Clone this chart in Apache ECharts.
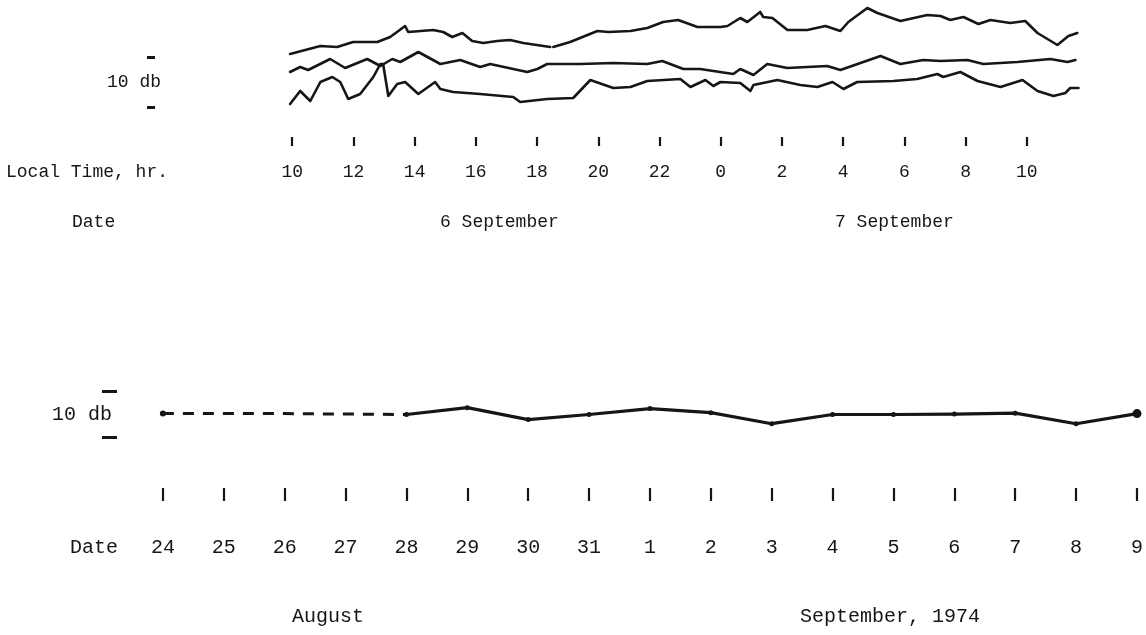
<!DOCTYPE html>
<html>
<head>
<meta charset="utf-8">
<script src="https://cdn.jsdelivr.net/npm/echarts@6/dist/echarts.min.js"></script>
<style>
  html, body { margin: 0; padding: 0; background: #fff; }
  #chart { width: 1146px; height: 635px; }
</style>
</head>
<body>
<div id="chart"></div>
<script>
// Upper panel: signal level (db) of three records against local time.
// Hours are counted from 00:00 on 6 September, so 24..36 falls on 7 September.
const hourTicks = [10, 12, 14, 16, 18, 20, 22, 24, 26, 28, 30, 32, 34];

const hoursA = [9.93, 10.92, 11.47, 11.99, 12.78, 13.20, 13.69, 13.79, 14.61, 14.93, 15.23, 15.56, 15.88, 16.24, 16.70, 17.12, 17.55, 18.43, 18.48,
  18.53, 19.08, 19.97, 20.33, 21.05, 21.60, 22.12, 22.61, 23.24, 23.99, 24.22, 24.64, 24.87, 25.29, 25.39, 25.69, 26.18, 26.83, 27.42, 27.91,
  28.17, 28.79, 29.12, 29.87, 30.75, 31.18, 31.50, 31.93, 32.42, 32.81, 33.46, 33.95, 34.35, 35.00, 35.36, 35.65];
const levelsA = [10.6, 12.2, 12.0, 13.0, 13.0, 14.0, 16.2, 15.0, 15.4, 15.0, 14.0, 14.8, 13.2, 12.8, 13.2, 13.4, 12.8, 12.0, null,
  12.0, 13.0, 15.2, 15.0, 15.2, 15.8, 17.0, 17.4, 16.0, 16.0, 16.2, 17.8, 17.0, 19.0, 18.0, 17.8, 15.4, 15.4, 16.2, 15.2,
  17.0, 19.8, 18.8, 17.2, 18.4, 18.2, 17.4, 18.0, 16.6, 17.4, 16.8, 17.2, 14.8, 12.4, 14.2, 14.8];

const hoursB = [9.93, 10.26, 10.52, 11.24, 11.73, 12.45, 12.88, 13.27, 13.53, 14.12, 14.84, 15.49, 16.14, 16.47, 17.22, 17.68, 18.01, 18.33,
  19.41, 20.49, 21.60, 22.09, 22.78, 23.33, 24.41, 24.64, 25.07, 25.52, 26.18, 26.83, 27.48, 27.91, 28.66, 29.22, 29.87, 30.62, 31.18,
  32.06, 32.58, 33.69, 34.77, 35.33, 35.59];
const levelsB = [7.0, 8.0, 7.4, 9.6, 7.8, 9.6, 8.2, 9.6, 9.0, 11.0, 8.6, 9.4, 8.0, 8.6, 7.6, 7.0, 7.6, 8.6,
  8.6, 8.8, 8.6, 9.2, 7.6, 7.6, 6.6, 7.6, 6.4, 8.6, 7.8, 8.0, 8.2, 7.4, 9.0, 10.2, 8.6, 9.4, 9.2,
  9.4, 8.6, 9.0, 9.6, 9.0, 9.4];

const hoursC = [9.93, 10.26, 10.59, 10.92, 11.31, 11.57, 11.83, 12.22, 12.65, 12.88, 12.97, 13.14, 13.43, 13.69, 14.12, 14.67, 14.84, 15.26,
  16.14, 17.22, 17.45, 18.33, 19.18, 19.74, 20.49, 21.05, 21.60, 22.68, 23.01, 23.50, 23.76, 23.99, 24.64, 24.97, 25.07, 25.85, 26.60,
  27.16, 27.65, 28.01, 28.46, 29.64, 30.42, 31.08, 31.27, 31.83, 32.39, 33.14, 33.86, 34.35, 34.87, 35.26, 35.42, 35.69];
const levelsC = [0.6, 3.2, 1.2, 5.0, 6.0, 5.0, 1.6, 2.6, 6.0, 8.6, 8.6, 2.2, 4.6, 5.0, 2.6, 5.0, 3.6, 3.0,
  2.6, 2.0, 1.0, 1.6, 1.8, 5.4, 3.8, 4.0, 5.2, 5.6, 4.0, 5.4, 4.2, 5.0, 4.8, 3.2, 4.4, 5.4, 4.4,
  4.0, 5.0, 3.6, 5.0, 5.2, 5.6, 6.6, 6.0, 7.0, 5.2, 4.0, 5.4, 3.2, 2.2, 2.8, 3.8, 3.8];

// Lower panel: daily level, 24 August to 9 September 1974.
const dayLabels = ['24', '25', '26', '27', '28', '29', '30', '31', '1', '2', '3', '4', '5', '6', '7', '8', '9'];
const dayLevels = [5.2, 5.2, 5.2, 5.1, 5.0, 6.5, 3.9, 5.0, 6.3, 5.4, 3.0, 5.0, 5.0, 5.1, 5.3, 3.0, 5.2];
const firstMeasuredDay = 4; // earlier days are drawn dashed

const pairs = (xs, ys) => xs.map((x, i) => [x, ys[i]]);
const dayIndex = dayLabels.map((_, i) => i);

const INK = '#161616';
const FONT = '"Liberation Mono", "Courier New", monospace';

const chart = echarts.init(document.getElementById('chart'), null, { renderer: 'canvas' });

const topLine = {
  type: 'line', xAxisIndex: 0, yAxisIndex: 0, showSymbol: false, symbol: 'none',
  lineStyle: { color: INK, width: 2.6, cap: 'round', join: 'round' },
  connectNulls: false, silent: true, animation: false
};

chart.setOption({
  backgroundColor: '#ffffff',
  animation: false,
  grid: [
    { left: 231, width: 857, top: 3, height: 134 },
    { left: 102, width: 1039, top: 364, height: 124 }
  ],
  xAxis: [
    {
      gridIndex: 0, type: 'value', min: 8, max: 36,
      axisLine: { show: false, onZero: false },
      splitLine: { show: false },
      axisTick: { show: true, customValues: hourTicks, length: 9, lineStyle: { color: INK, width: 2.2 } },
      axisLabel: {
        customValues: hourTicks, margin: 26,
        formatter: v => String(v % 24),
        color: INK, fontFamily: FONT, fontSize: 18
      }
    },
    {
      gridIndex: 1, type: 'value', min: -1, max: 16,
      axisLine: { show: false, onZero: false },
      splitLine: { show: false },
      axisTick: { show: true, customValues: dayIndex, length: 13, lineStyle: { color: INK, width: 2.2 } },
      axisLabel: {
        customValues: dayIndex, margin: 50,
        formatter: v => dayLabels[Math.round(v)],
        color: INK, fontFamily: FONT, fontSize: 20
      }
    }
  ],
  yAxis: [
    {
      gridIndex: 0, type: 'value', min: -6, max: 20.8, position: 'left', offset: 84,
      axisLine: { show: false, onZero: false },
      splitLine: { show: false },
      axisTick: { show: true, inside: true, customValues: [0, 10], length: 8, lineStyle: { color: INK, width: 3 } },
      axisLabel: {
        customValues: [5], formatter: () => '10 db', align: 'left', margin: 40,
        color: INK, fontFamily: FONT, fontSize: 18
      }
    },
    {
      gridIndex: 1, type: 'value', min: -11, max: 16, position: 'left', offset: 0,
      axisLine: { show: false, onZero: false },
      splitLine: { show: false },
      axisTick: { show: true, inside: true, customValues: [0, 10], length: 15, lineStyle: { color: INK, width: 3 } },
      axisLabel: {
        customValues: [5], formatter: () => '10 db', align: 'left', margin: 50,
        color: INK, fontFamily: FONT, fontSize: 20
      }
    }
  ],
  series: [
    Object.assign({}, topLine, { name: 'A', data: pairs(hoursA, levelsA) }),
    Object.assign({}, topLine, { name: 'B', data: pairs(hoursB, levelsB) }),
    Object.assign({}, topLine, { name: 'C', data: pairs(hoursC, levelsC) }),
    {
      name: 'early days', type: 'line', xAxisIndex: 1, yAxisIndex: 1,
      data: pairs(dayIndex, dayLevels).slice(0, firstMeasuredDay + 1),
      symbol: 'circle',
      symbolSize: (v, p) => (p.dataIndex === 0 ? 6 : 0),
      itemStyle: { color: INK },
      lineStyle: { color: INK, width: 3, type: [11, 9] },
      silent: true, clip: false
    },
    {
      name: 'daily level', type: 'line', xAxisIndex: 1, yAxisIndex: 1,
      data: pairs(dayIndex, dayLevels).slice(firstMeasuredDay),
      symbol: 'circle',
      symbolSize: (v, p) => (p.dataIndex === dayLevels.length - 1 - firstMeasuredDay ? 9 : 5),
      itemStyle: { color: INK },
      lineStyle: { color: INK, width: 3.2, join: 'round' },
      silent: true, clip: false
    }
  ],
  graphic: [
    { type: 'text', x: 6, y: 172, style: { text: 'Local Time, hr.', font: '18px ' + FONT, fill: INK, verticalAlign: 'middle' } },
    { type: 'text', x: 72, y: 222, style: { text: 'Date', font: '18px ' + FONT, fill: INK, verticalAlign: 'middle' } },
    { type: 'text', x: 440, y: 222, style: { text: '6 September', font: '18px ' + FONT, fill: INK, verticalAlign: 'middle' } },
    { type: 'text', x: 835, y: 222, style: { text: '7 September', font: '18px ' + FONT, fill: INK, verticalAlign: 'middle' } },
    { type: 'text', x: 70, y: 548, style: { text: 'Date', font: '20px ' + FONT, fill: INK, verticalAlign: 'middle' } },
    { type: 'text', x: 292, y: 617, style: { text: 'August', font: '20px ' + FONT, fill: INK, verticalAlign: 'middle' } },
    { type: 'text', x: 800, y: 617, style: { text: 'September, 1974', font: '20px ' + FONT, fill: INK, verticalAlign: 'middle' } }
  ]
});
</script>
</body>
</html>
